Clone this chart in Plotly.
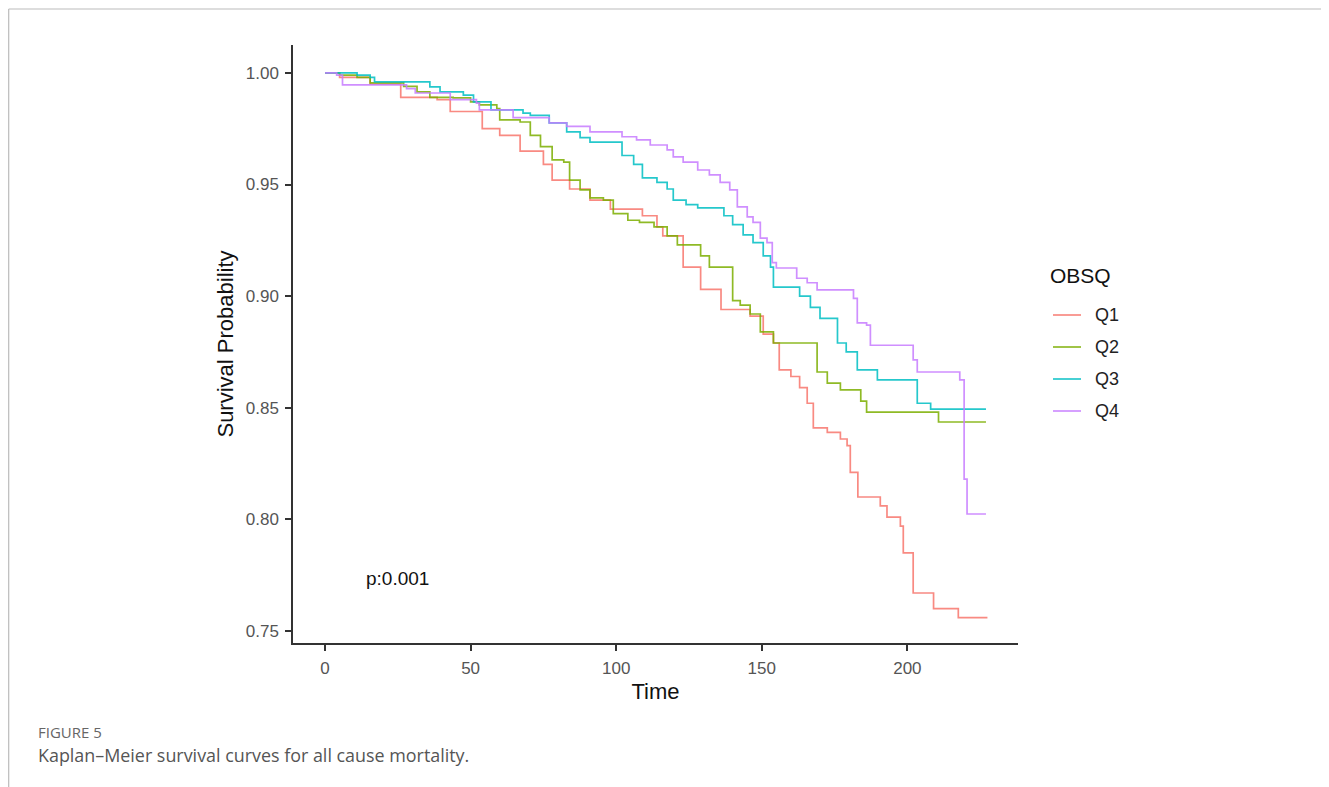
import plotly.graph_objects as go

# Kaplan-Meier step curves (time, survival probability)
q1_time = [0, 5, 15.5, 26, 38.5, 43, 54, 60, 67, 75, 78, 84, 91, 98, 109, 114, 116, 123, 129, 136, 146, 150.5, 154, 156, 160, 163, 165.6, 167.7, 172.5, 177, 179.3, 180.4, 183, 190.7, 193, 197.6, 198.6, 202, 209, 217.5, 227.5]
q1_surv = [1.0, 0.998, 0.995, 0.989, 0.988, 0.9827, 0.975, 0.972, 0.965, 0.959, 0.952, 0.948, 0.943, 0.939, 0.936, 0.931, 0.927, 0.913, 0.903, 0.894, 0.891, 0.883, 0.879, 0.867, 0.864, 0.859, 0.852, 0.841, 0.839, 0.836, 0.833, 0.821, 0.810, 0.806, 0.801, 0.797, 0.785, 0.767, 0.760, 0.756, 0.756]

q2_time = [0, 5, 11, 15.5, 27, 31.6, 36, 44, 50, 53, 59, 60, 67, 70.5, 74, 78, 82, 84, 87.6, 91, 95.6, 99, 104, 108, 113, 117.5, 121, 129, 132, 140, 142.6, 146, 149.5, 154, 169, 172.5, 177, 184, 186, 210.7, 227]
q2_surv = [1.0, 0.999, 0.998, 0.9955, 0.994, 0.9915, 0.989, 0.9888, 0.987, 0.9857, 0.984, 0.979, 0.978, 0.972, 0.967, 0.961, 0.960, 0.952, 0.9476, 0.944, 0.943, 0.937, 0.934, 0.933, 0.931, 0.927, 0.923, 0.918, 0.913, 0.898, 0.896, 0.892, 0.884, 0.879, 0.866, 0.861, 0.858, 0.853, 0.848, 0.8436, 0.8436]

q3_time = [0, 11, 15.5, 17, 36, 39.5, 47.5, 51, 57, 68, 70.5, 77, 83, 87.6, 91, 102, 106, 109, 114, 117.5, 119.6, 124, 128, 137, 140, 143.6, 147, 150.5, 153, 154, 163, 166.7, 170, 176, 179, 182.8, 189.7, 203.4, 208, 227]
q3_surv = [1.0, 0.999, 0.998, 0.996, 0.9937, 0.9915, 0.990, 0.987, 0.9834, 0.982, 0.981, 0.9776, 0.9736, 0.971, 0.969, 0.963, 0.959, 0.953, 0.951, 0.948, 0.943, 0.941, 0.9395, 0.936, 0.932, 0.9274, 0.924, 0.918, 0.913, 0.904, 0.900, 0.895, 0.890, 0.879, 0.875, 0.867, 0.8625, 0.852, 0.8494, 0.8494]

q4_time = [0, 4, 6, 28, 31, 43, 52, 53, 64.6, 77, 83, 91, 102, 107, 111.7, 117.5, 119.6, 123, 128, 132, 135.7, 139, 141.6, 145, 147, 149.5, 151.8, 153.6, 155, 162, 165.6, 169, 181.5, 182.8, 186, 187.3, 202, 203.4, 218, 219.5, 220.5, 227]
q4_surv = [1.0, 0.999, 0.9946, 0.993, 0.991, 0.988, 0.9865, 0.9834, 0.980, 0.9776, 0.976, 0.9736, 0.9714, 0.970, 0.9677, 0.9655, 0.9624, 0.960, 0.9565, 0.9543, 0.951, 0.9476, 0.940, 0.9355, 0.933, 0.926, 0.924, 0.915, 0.9126, 0.908, 0.906, 0.9028, 0.899, 0.888, 0.887, 0.878, 0.8714, 0.866, 0.8625, 0.818, 0.8024, 0.8024]

groups = ["Q1", "Q2", "Q3", "Q4"]
colors = ["#F8766D", "#7CAE00", "#00BFC4", "#C77CFF"]
x_ticks = [0, 50, 100, 150, 200]
y_ticks = [0.75, 0.80, 0.85, 0.90, 0.95, 1.00]
p_text = "p:0.001"

series = [(q1_time, q1_surv), (q2_time, q2_surv), (q3_time, q3_surv), (q4_time, q4_surv)]

fig = go.Figure()
for name, col, (t, s) in zip(groups, colors, series):
    fig.add_trace(go.Scatter(x=t, y=s, mode="lines", line_shape="hv",
                             line=dict(color=col, width=1.7), opacity=0.85,
                             name=name, showlegend=False))

AXFONT = "Liberation Sans, Arial, sans-serif"
# page body adds an 8px offset; margins compensate so the plot area sits at x 293-1018, y 45-643
fig.update_layout(
    width=1329, height=787,
    margin=dict(l=285, r=319, t=37, b=152),
    paper_bgcolor="white", plot_bgcolor="white",
    font=dict(family=AXFONT),
)
fig.update_xaxes(range=[-11, 238], tickvals=x_ticks, showgrid=False, zeroline=False,
                 showline=True, linecolor="#333333", linewidth=1.5,
                 ticks="outside", ticklen=6, tickcolor="#333333", tickwidth=1.5,
                 tickfont=dict(size=17, color="#555555"), ticklabelstandoff=3,
                 title=dict(text="Time", font=dict(size=22, color="#111111"), standoff=6))
fig.update_yaxes(range=[0.7446, 1.0125], tickvals=y_ticks, tickformat=".2f", showgrid=False,
                 zeroline=False, showline=True, linecolor="#333333", linewidth=1.5,
                 ticks="outside", ticklen=6, tickcolor="#333333", tickwidth=1.5,
                 tickfont=dict(size=17, color="#555555"), ticklabelstandoff=3,
                 title=dict(text="Survival Probability", font=dict(size=22, color="#111111"), standoff=6))

# p-value label
fig.add_annotation(x=13.4, y=0.7737, xref="x", yref="y", text=p_text, showarrow=False,
                   xanchor="left", yanchor="middle", font=dict(size=19, color="#111111"))

# Manual legend
def px2x(px):
    return (px - 293) / 725.0

def py2y(py):
    return (643 - py) / 598.0

fig.add_annotation(x=px2x(1048), y=py2y(275), xref="paper", yref="paper", text="OBSQ",
                   showarrow=False, xanchor="left", yanchor="middle",
                   font=dict(size=21, color="#111111"))
for i, (name, col) in enumerate(zip(groups, colors)):
    yy = py2y(315 + 32 * i)
    fig.add_shape(type="line", xref="paper", yref="paper", x0=px2x(1053), x1=px2x(1081),
                  y0=yy, y1=yy, line=dict(color=col, width=1.7), opacity=0.85)
    fig.add_annotation(x=px2x(1093), y=yy, xref="paper", yref="paper", text=name,
                       showarrow=False, xanchor="left", yanchor="middle",
                       font=dict(size=18, color="#222222"))

# Caption
CAPFONT = "Open Sans, Noto Sans, sans-serif"
fig.add_annotation(x=px2x(36), y=py2y(732), xref="paper", yref="paper", text="FIGURE 5",
                   showarrow=False, xanchor="left", yanchor="middle",
                   font=dict(size=15, color="#666666", family=CAPFONT))
fig.add_annotation(x=px2x(36), y=py2y(755), xref="paper", yref="paper",
                   text="Kaplan–Meier survival curves for all cause mortality.",
                   showarrow=False, xanchor="left", yanchor="middle",
                   font=dict(size=17.9, color="#555555", family=CAPFONT))

# Frame border
fig.add_shape(type="line", xref="paper", yref="paper", x0=px2x(8.7), x1=px2x(1335),
              y0=py2y(9), y1=py2y(9), line=dict(color="#BBBBBB", width=1.2))
fig.add_shape(type="line", xref="paper", yref="paper", x0=px2x(8.7), x1=px2x(8.7),
              y0=py2y(9), y1=py2y(795), line=dict(color="#BBBBBB", width=1.2))

fig.write_html("out.html")
